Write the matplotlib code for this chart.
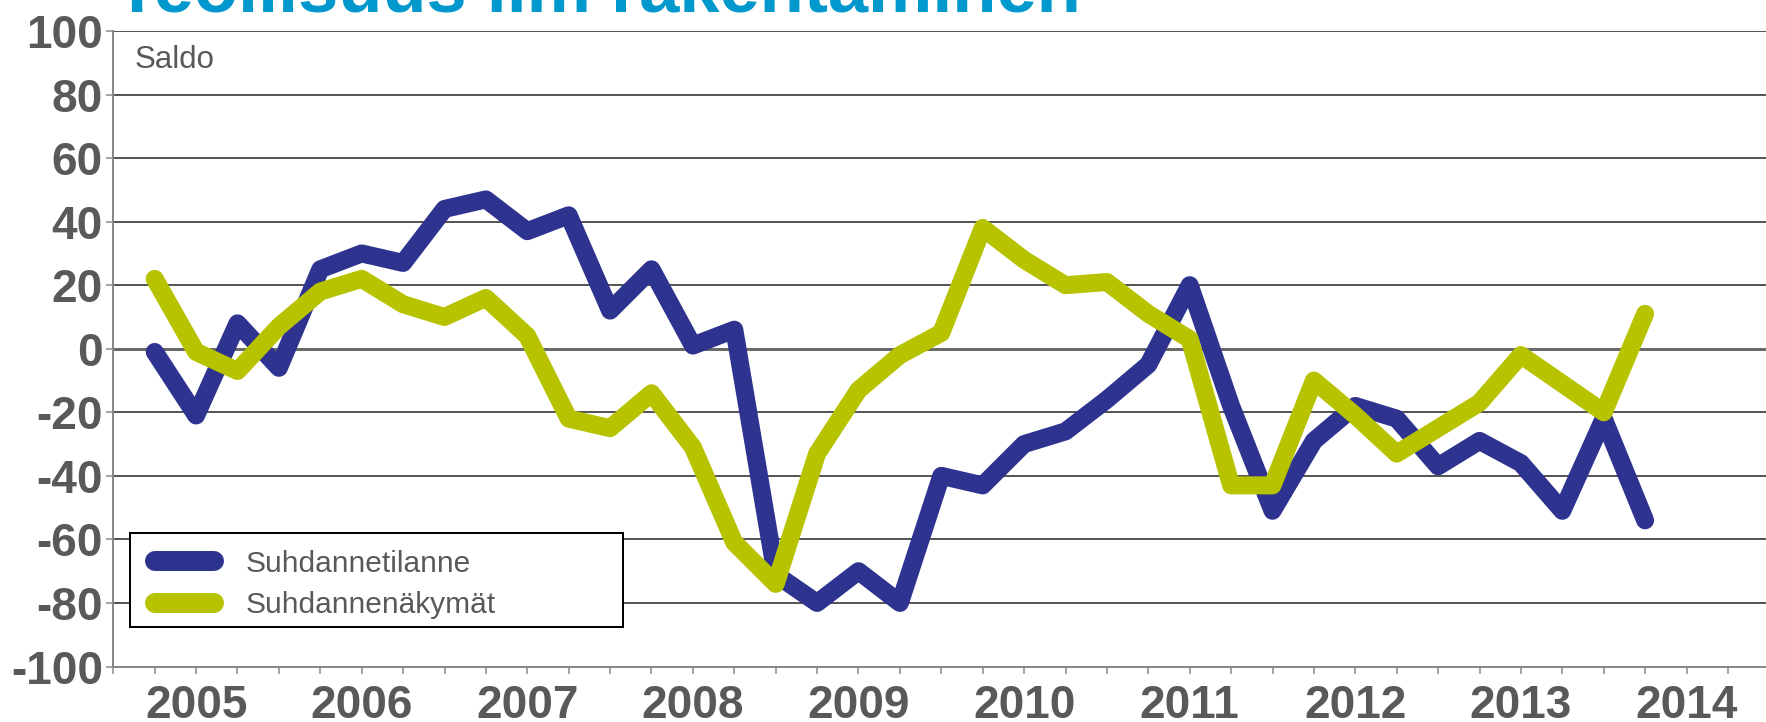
import numpy as np
import matplotlib
matplotlib.use("Agg")
import matplotlib.pyplot as plt
from matplotlib.patches import Rectangle

plt.rcParams['font.family'] = ['Liberation Sans', 'DejaVu Sans']

# ---- data ----
years = ["2005", "2006", "2007", "2008", "2009", "2010", "2011", "2012", "2013", "2014"]
suhdannetilanne = [-1, -21, 8, -6, 25, 30, 27, 44, 47, 37, 42, 12, 25, 1, 6, -71, -80, -70, -80,
                   -40, -43, -30, -26, -16, -5, 20, -18, -51, -29, -18, -22, -37, -29, -36, -51, -22, -54]
suhdannenakymat = [22, -1, -7, 7, 18, 22, 14, 10, 16, 4, -22, -25, -14, -31, -61, -74, -33, -13, -2,
                   5, 38, 28, 20, 21, 11, 3, -43, -43, -10, -21, -33, -25, -17, -2, -11, -20, 11]
series_names = ["Suhdannetilanne", "Suhdannenäkymät"]
title = "Teollisuus ilm rakentaminen"
ylabel_text = "Saldo"

BLUE = "#2E3390"
GREEN = "#B8C300"
GRAY = "#595959"

W, H = 1766, 722
fig = plt.figure(figsize=(W / 100, H / 100), dpi=100)

left_px, right_px, top_px, bot_px = 113.3, 1766, 31, 666.5
step = 41.4
ax = fig.add_axes([left_px / W, (H - bot_px) / H, (right_px - left_px) / W, (bot_px - top_px) / H])

x = np.arange(1, len(suhdannetilanne) + 1)
lw = 18 * 0.72
ax.plot(x, suhdannetilanne, color=BLUE, lw=lw, solid_capstyle='round', solid_joinstyle='round',
        label=series_names[0], zorder=3)
ax.plot(x, suhdannenakymat, color=GREEN, lw=lw, solid_capstyle='round', solid_joinstyle='round',
        label=series_names[1], zorder=4)

ax.set_xlim(0, (right_px - left_px) / step)
ax.set_ylim(-100, 100)

# y axis
yt = np.arange(-100, 101, 20)
ax.set_yticks(yt)
ax.set_yticklabels([str(v) for v in yt])
for v in yt:
    if v == 0:
        ax.axhline(v, color="#6a6a6a", lw=3 * 0.72, zorder=1)
    elif v != -100:
        ax.axhline(v, color="#2e2e2e", lw=1.6 * 0.72, zorder=1)

# x axis
xt = np.arange(0, 40)
ax.set_xticks(xt)
labels = [""] * len(xt)
for k, yname in enumerate(years):
    pos = 2 + 4 * k
    if pos < len(labels):
        labels[pos] = yname
ax.set_xticklabels(labels)

for s in ["top", "right"]:
    ax.spines[s].set_visible(False)
for s in ["left", "bottom"]:
    ax.spines[s].set_color("#888888")
    ax.spines[s].set_linewidth(2 * 0.72)

ax.tick_params(axis='both', direction='out', length=7 * 0.72, width=1.5 * 0.72, color="#888888")
ax.tick_params(axis='y', labelsize=33, labelcolor=GRAY, pad=2.5)
ax.tick_params(axis='x', labelsize=33, labelcolor=GRAY, pad=7.5)
for lab in ax.get_xticklabels() + ax.get_yticklabels():
    lab.set_fontweight('bold')

# Saldo
ax.text((135 - left_px) / step, 100 - (68 - top_px) / ((bot_px - top_px) / 200), ylabel_text,
        fontsize=22.5, color=GRAY, ha='left', va='baseline')

# legend box
box = Rectangle((130 / W, (H - 627.3) / H), (623 - 130) / W, (627.3 - 532.7) / H,
                transform=fig.transFigure, facecolor='white', edgecolor='black',
                lw=2 * 0.72, zorder=5)
ax.add_patch(box)
box.set_clip_on(False)

leg = ax.legend(loc='center left', bbox_to_anchor=(155 / W, (H - 584.5) / H),
                bbox_transform=fig.transFigure, fontsize=21.5, frameon=False,
                borderpad=0, labelspacing=0.44, handlelength=1.96,
                handletextpad=1.07, borderaxespad=0)
leg.set_zorder(6)
for h in leg.get_lines():
    h.set_linewidth(20 * 0.72)
for t in leg.get_texts():
    t.set_color(GRAY)

# title (cut off at top, as in the reference)
fig.text(115 / W, 1 - 12 / H, title, fontsize=52, fontweight='bold', color="#0098CD",
         ha='left', va='baseline')

fig.savefig("out.png", dpi=100)
